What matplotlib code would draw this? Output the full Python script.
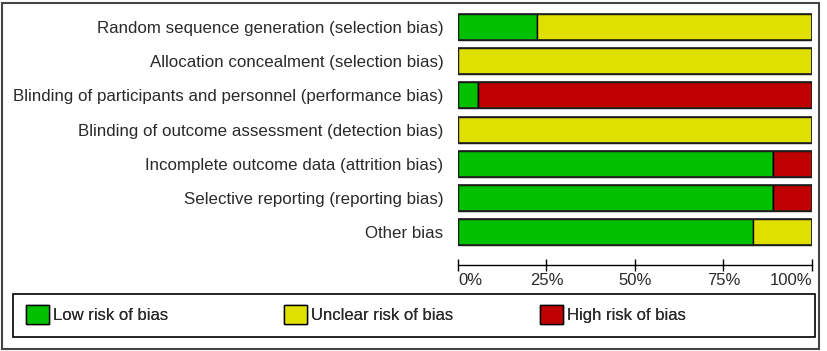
import matplotlib.pyplot as plt
from matplotlib.patches import Patch, Rectangle
import numpy as np

plt.rcParams['font.family'] = ['Liberation Sans', 'DejaVu Sans']

# risk of bias domains, top to bottom
domains = ['Random sequence generation (selection bias)',
           'Allocation concealment (selection bias)',
           'Blinding of participants and personnel (performance bias)',
           'Blinding of outcome assessment (detection bias)',
           'Incomplete outcome data (attrition bias)',
           'Selective reporting (reporting bias)',
           'Other bias']
# percentages of studies (18 studies)
low = [22.2, 0, 5.6, 0, 88.9, 88.9, 83.3]
unclear = [77.8, 100, 0, 100, 0, 0, 16.7]
high = [0, 0, 94.4, 0, 11.1, 11.1, 0]

ticks = [0, 25, 50, 75, 100]
tick_labels = ['0%', '25%', '50%', '75%', '100%']

green = '#00C000'
yellow = '#E0E000'
red = '#C00000'
txt = '#2a2a2a'
fs = 12.2

W, H = 827, 351
fig = plt.figure(figsize=(W / 100, H / 100), dpi=100)

# axes placed in pixel terms
ax = fig.add_axes([458 / W, (H - 265) / H, (812 - 458) / W, (265 - 10) / H])

y = np.arange(len(domains))
low = np.array(low)
unclear = np.array(unclear)
high = np.array(high)
kw = dict(height=0.76, edgecolor='black', linewidth=1.0)
ax.barh(y, low, color=green, **kw)
ax.barh(y, unclear, left=low, color=yellow, **kw)
ax.barh(y, high, left=low + unclear, color=red, **kw)

# outline whole bar
ax.barh(y, 100, color='none', edgecolor='#222222', linewidth=1.2, height=0.76)

ax.set_xlim(0, 100)
ax.set_ylim(6 + 33 / 34.17, -0.5)
ax.set_yticks(y)
ax.set_yticklabels(domains, fontsize=fs, color=txt)
ax.tick_params(axis='y', length=0, pad=10.5)
ax.set_xticks(ticks)
ax.set_xticklabels(tick_labels, fontsize=12, color=txt)
ax.tick_params(axis='x', direction='inout', length=9, width=1, pad=1.5)
xl = ax.get_xticklabels()
xl[0].set_ha('left')
xl[-1].set_ha('right')
for s in ['top', 'left', 'right']:
    ax.spines[s].set_visible(False)
ax.spines['bottom'].set_linewidth(1)
ax.set_facecolor('none')

# outer frame
fig.patches.append(Rectangle((1.5 / W, 2.5 / H), 817 / W, 346 / H, transform=fig.transFigure,
                             fill=False, edgecolor='#444444', linewidth=1.5))
# legend frame
fig.patches.append(Rectangle((13 / W, (H - 337) / H), 802 / W, 43 / H, transform=fig.transFigure,
                             fill=False, edgecolor='black', linewidth=1.2))

handles = [Patch(facecolor=green, edgecolor='black', label='Low risk of bias'),
           Patch(facecolor=yellow, edgecolor='black', label='Unclear risk of bias'),
           Patch(facecolor=red, edgecolor='black', label='High risk of bias')]
leg_x = [26, 284, 540]
for h, lx in zip(handles, leg_x):
    fig.add_artist(fig.legend(handles=[h], loc='center left',
                              bbox_to_anchor=(lx / W, (H - 314.5) / H),
                              frameon=False, borderpad=0, borderaxespad=0,
                              fontsize=12, handlelength=1.38, handleheight=1.38,
                              handletextpad=0.25, labelcolor=txt))

fig.savefig('out.png', dpi=100)
